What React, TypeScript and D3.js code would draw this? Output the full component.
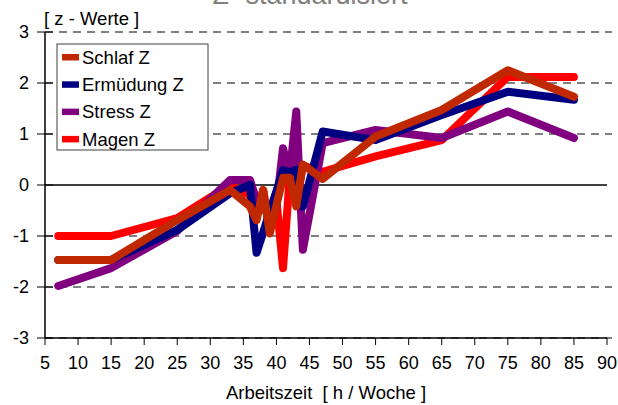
import React from "react";
import * as d3 from "d3";

const xValues = [7, 15, 25, 33, 36, 37, 38, 39, 40, 41, 42, 43, 44, 47, 55, 65, 75, 85];
const schlafZ = [-1.47, -1.47, -0.69, -0.1, -0.42, -0.69, -0.1, -0.95, -0.4, 0.14, 0.14, -0.42, 0.4, 0.12, 0.95, 1.47, 2.25, 1.73];
const ermuedungZ = [-1.47, -1.47, -0.88, -0.16, 0.0, -1.33, -0.93, -0.52, -0.12, 0.29, 0.25, 0.3, -0.42, 1.05, 0.88, 1.37, 1.83, 1.67];
const stressZ = [-1.98, -1.63, -0.9, 0.1, 0.1, -0.3, -0.3, -0.8, -0.4, 0.72, 0.2, 1.44, -1.27, 0.82, 1.08, 0.92, 1.44, 0.92];
const magenZ = [-1.0, -1.0, -0.65, 0.0, -0.2, -0.6, -0.1, -0.9, -0.3, -1.63, 0.14, -0.35, 0.38, 0.26, 0.56, 0.88, 2.12, 2.12];

const seriesNames = ["Schlaf Z", "Ermüdung Z", "Stress Z", "Magen Z"];
const seriesColors = ["#C02800", "#000080", "#800080", "#FF0000"];
const seriesValues = [schlafZ, ermuedungZ, stressZ, magenZ];
const drawOrder = [3, 2, 1, 0];

const xTicks = [5, 10, 15, 20, 25, 30, 35, 40, 45, 50, 55, 60, 65, 70, 75, 80, 85, 90];
const yTicks = [-3, -2, -1, 0, 1, 2, 3];

const title = "Z- standardisiert";
const yTitle = "[ z - Werte ]";
const xTitle = "Arbeitszeit  [ h / Woche ]";

export default function App() {
  const W = 618, H = 405;
  const left = 45, right = 607, top = 32, bottom = 338;
  const x = d3.scaleLinear().domain([5, 90]).range([left, right]);
  const y = d3.scaleLinear().domain([-3, 3]).range([bottom, top]);
  const font = "Arial, 'Liberation Sans', sans-serif";

  const line = (vals: number[]) =>
    d3.line<number>().x((_, i) => x(xValues[i])).y((v) => y(v))(vals) || "";

  return (
    <svg width={W} height={H} style={{ position: "absolute", left: 0, top: 0, background: "#fff" }} fontFamily={font}>
      <rect x={0} y={0} width={W} height={H} fill="#fff" />
      <text x={310} y={4} textAnchor="middle" fontSize={27} fill="#808080">{title}</text>
      <text x={44} y={25} fontSize={18.5} fill="#000">{yTitle}</text>

      {yTicks.filter((t) => t !== 0).map((t) => (
        <line key={"g" + t} x1={left} x2={612} y1={y(t)} y2={y(t)} stroke="#808080" strokeWidth={2} strokeDasharray="8,6" />
      ))}
      <line x1={left} x2={right} y1={y(0)} y2={y(0)} stroke="#000" strokeWidth={1.5} />
      <line x1={left} x2={right} y1={bottom} y2={bottom} stroke="#000" strokeWidth={1.5} />
      <line x1={left} x2={left} y1={top} y2={bottom} stroke="#000" strokeWidth={1.5} />

      {yTicks.map((t) => (
        <g key={"yt" + t}>
          <line x1={37} x2={53} y1={y(t)} y2={y(t)} stroke="#000" strokeWidth={1} />
          <text x={29} y={y(t)} dy="0.35em" textAnchor="end" fontSize={18}>{t}</text>
        </g>
      ))}
      {xTicks.map((t) => (
        <g key={"xt" + t}>
          <line x1={x(t)} x2={x(t)} y1={bottom} y2={bottom + 7} stroke="#000" strokeWidth={1} />
          <text x={x(t)} y={369} textAnchor="middle" fontSize={18}>{t}</text>
        </g>
      ))}
      <text x={(left + right) / 2} y={399} textAnchor="middle" fontSize={18.5} style={{ whiteSpace: "pre" }}>{xTitle}</text>

      {drawOrder.map((k) => (
        <path key={"s" + k} d={line(seriesValues[k])} fill="none" stroke={seriesColors[k]} strokeWidth={8} strokeLinejoin="round" strokeLinecap="round" />
      ))}

      <rect x={57} y={44} width={151} height={106} fill="#fff" stroke="#404040" strokeWidth={1} />
      {seriesNames.map((n, i) => (
        <g key={"l" + i}>
          <rect x={62} y={57 + i * 27.3 - 3} width={17} height={6.5} fill={seriesColors[i]} />
          <text x={82} y={57 + i * 27.3} dy="0.36em" fontSize={18.5}>{n}</text>
        </g>
      ))}
    </svg>
  );
}
